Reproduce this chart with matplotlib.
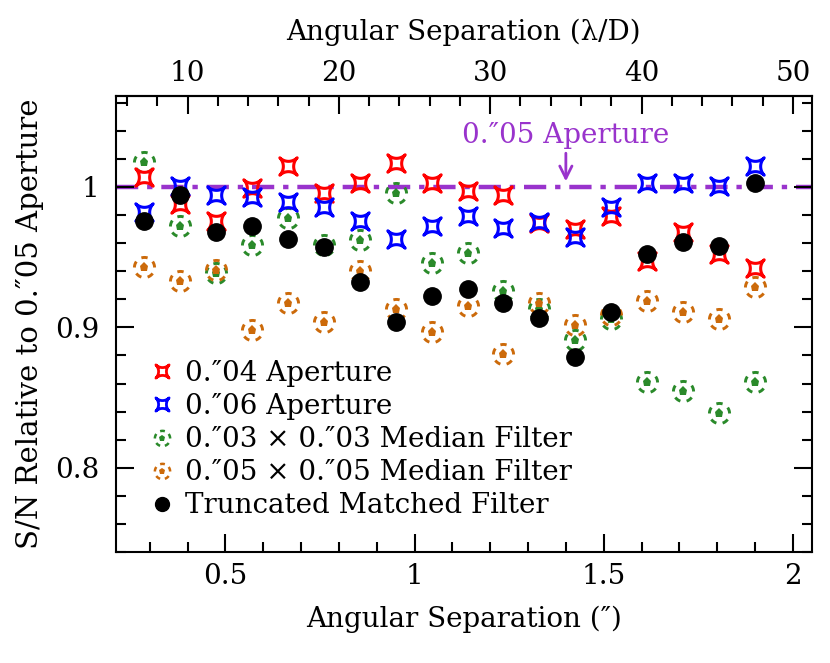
import numpy as np
import matplotlib
matplotlib.use("Agg")
import matplotlib.pyplot as plt
from matplotlib.path import Path
from matplotlib.lines import Line2D
from matplotlib.ticker import MultipleLocator, FixedLocator, FuncFormatter

# angular separation of each injected source (arcsec)
sep = [0.285, 0.380, 0.475, 0.570, 0.665, 0.760, 0.855, 0.950, 1.045,
       1.140, 1.235, 1.330, 1.425, 1.520, 1.615, 1.710, 1.805, 1.900]

# S/N relative to the 0.05" aperture
ap04 = [1.007, 0.988, 0.976, 0.9995, 1.015, 0.996, 1.003, 1.017, 1.003,
        0.997, 0.994, 0.974, 0.970, 0.979, 0.947, 0.968, 0.952, 0.942]
ap06 = [0.982, 1.001, 0.994, 0.993, 0.989, 0.986, 0.976, 0.963, 0.972,
        0.979, 0.971, 0.975, 0.964, 0.986, 1.003, 1.003, 1.0005, 1.015]
med03 = [1.018, 0.972, 0.939, 0.959, 0.978, 0.959, 0.962, 0.996, 0.946,
         0.953, 0.926, 0.913, 0.891, 0.906, 0.861, 0.855, 0.839, 0.861]
med05 = [0.943, 0.933, 0.941, 0.898, 0.917, 0.904, 0.940, 0.913, 0.897,
         0.915, 0.881, 0.917, 0.902, 0.909, 0.919, 0.911, 0.906, 0.929]
tmf = [0.976, 0.994, 0.968, 0.972, 0.963, 0.957, 0.932, 0.9035, 0.9225,
       0.927, 0.917, 0.907, 0.879, 0.911, 0.952, 0.961, 0.958, 1.003]

labels = ["0.\u203304 Aperture", "0.\u203306 Aperture",
          "0.\u203303 \u00d7 0.\u203303 Median Filter",
          "0.\u203305 \u00d7 0.\u203305 Median Filter",
          "Truncated Matched Filter"]
top_ticks = [10, 20, 30, 40, 50]

RED, BLUE, GREEN, ORANGE, PURPLE = "#ff0000", "#0000ff", "#2a8a2a", "#cc6a0a", "#9933cc"
FS = 20

plt.rcParams["font.family"] = ["DejaVu Serif"]


def star_path(p=3.5):
    # concave 4-point star, tips on the diagonals
    t = np.linspace(0, 2 * np.pi, 161)
    x = np.sign(np.cos(t)) * np.abs(np.cos(t)) ** p
    y = np.sign(np.sin(t)) * np.abs(np.sin(t)) ** p
    c, s = np.cos(np.pi / 4), np.sin(np.pi / 4)
    v = np.column_stack([c * x - s * y, s * x + c * y])
    return Path(v, closed=True)


def dashed_ring(n=5, frac=0.5):
    verts, codes = [], []
    for k in range(n):
        a0 = np.pi / 2 + 2 * np.pi * k / n - frac * np.pi / n
        t = np.linspace(a0, a0 + frac * 2 * np.pi / n, 8)
        verts += np.column_stack([np.cos(t), np.sin(t)]).tolist()
        codes += [Path.MOVETO] + [Path.LINETO] * 7
    return Path(verts, codes)


STAR = star_path()
RING = dashed_ring()

fig = plt.figure(figsize=(8.3, 6.63), dpi=100)
ax = fig.add_axes([0.1394, 0.1674, 0.8386, 0.6883])

ax.axhline(1.0, color=PURPLE, lw=3.2, dashes=(5, 2, 1.2, 2), zorder=1)

star_kw = dict(ls="none", marker=STAR, ms=12.5, mfc="none", mew=2.2)
ax.plot(sep, ap04, mec=RED, zorder=3, **star_kw)
ax.plot(sep, ap06, mec=BLUE, zorder=3, **star_kw)

ring_kw = dict(ls="none", marker=RING, ms=14.5, mfc="none", mew=2.1)
for vals, col in [(med03, GREEN), (med05, ORANGE)]:
    ax.plot(sep, vals, mec=col, zorder=2, **ring_kw)
    ax.plot(sep, vals, ls="none", marker="p", ms=6.5, color=col, mew=0, zorder=2)

ax.plot(sep, tmf, ls="none", marker="o", ms=12.5, color="black", zorder=4)

ax.annotate("", xy=(1.40, 1.002), xytext=(1.40, 1.026),
            arrowprops=dict(arrowstyle="->", color=PURPLE, lw=2, mutation_scale=22))
ax.text(1.40, 1.027, "0.\u203305 Aperture", color=PURPLE, fontsize=FS,
        ha="center", va="bottom")

ax.set_xlim(0.21, 2.05)
ax.set_ylim(0.74, 1.065)

fmt = FuncFormatter(lambda v, pos: "%g" % v)
ax.xaxis.set_major_locator(MultipleLocator(0.5))
ax.xaxis.set_minor_locator(MultipleLocator(0.1))
ax.yaxis.set_major_locator(MultipleLocator(0.1))
ax.yaxis.set_minor_locator(MultipleLocator(0.02))
ax.xaxis.set_major_formatter(fmt)
ax.yaxis.set_major_formatter(fmt)
ax.tick_params(which="both", direction="in", right=True, top=False, width=1.5, labelsize=FS)
ax.tick_params(which="major", length=13)
ax.tick_params(which="minor", length=7)
ax.tick_params(axis="x", pad=8)
ax.tick_params(axis="y", pad=12)
for sp in ax.spines.values():
    sp.set_linewidth(1.5)

top = ax.secondary_xaxis("top", functions=(lambda x: x * 25.0, lambda x: x / 25.0))
top.xaxis.set_major_locator(FixedLocator(top_ticks))
top.xaxis.set_minor_locator(MultipleLocator(2))
top.tick_params(which="both", direction="in", width=1.5, labelsize=FS, pad=6)
top.tick_params(which="major", length=13)
top.tick_params(which="minor", length=7)
top.spines["top"].set_linewidth(1.5)
top.set_xlabel("Angular Separation (\u03bb/D)", fontsize=FS, labelpad=15)

ax.set_xlabel("Angular Separation (\u2033)", fontsize=FS, labelpad=11)
ax.set_ylabel("S/N Relative to 0.\u203305 Aperture", fontsize=21, labelpad=8)

handles = [
    Line2D([], [], mec=RED, **dict(star_kw, ms=9.5, mew=2)),
    Line2D([], [], mec=BLUE, **dict(star_kw, ms=9.5, mew=2)),
    (Line2D([], [], mec=GREEN, **dict(ring_kw, ms=11, mew=1.8)),
     Line2D([], [], ls="none", marker="p", ms=5, color=GREEN, mew=0)),
    (Line2D([], [], mec=ORANGE, **dict(ring_kw, ms=11, mew=1.8)),
     Line2D([], [], ls="none", marker="p", ms=5, color=ORANGE, mew=0)),
    Line2D([], [], ls="none", marker="o", ms=10, color="black"),
]
ax.legend(handles, labels, loc="upper left", bbox_to_anchor=(0.032, 0.445),
          frameon=False, fontsize=FS, handlelength=0.9, handletextpad=0.4,
          labelspacing=0.22, borderaxespad=0)

fig.savefig("out.png", dpi=100)
